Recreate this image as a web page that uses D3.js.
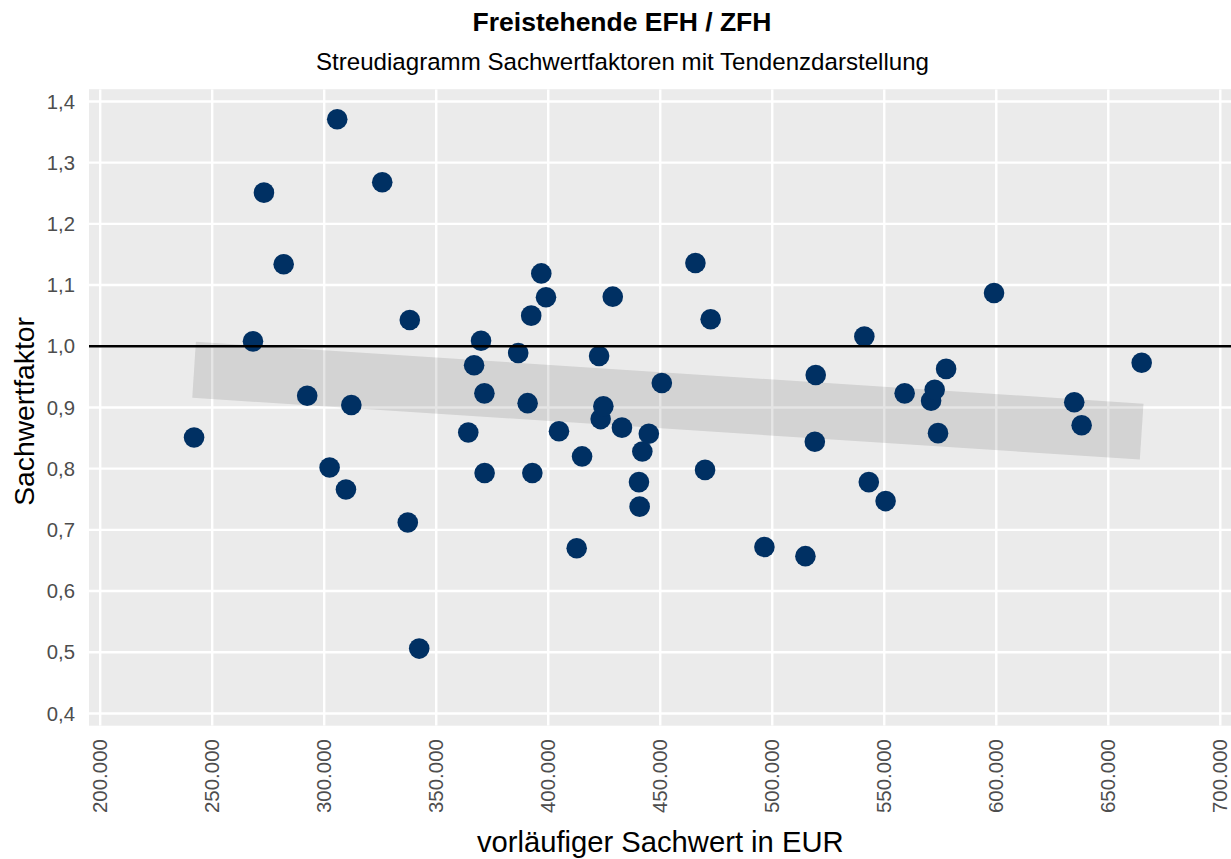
<!DOCTYPE html>
<html>
<head>
<meta charset="utf-8">
<script src="https://cdn.jsdelivr.net/npm/d3@7"></script>
<style>
  html, body { margin: 0; padding: 0; background: #ffffff; }
  svg { display: block; font-family: "Liberation Sans", Arial, sans-serif; }
</style>
</head>
<body>
<svg id="chart" width="1231" height="859"></svg>
<script>
// ---- data ----
const sachwert = [
  241900, 268200, 273100, 281900, 292400, 302400, 305800, 309700, 312100, 325900,
  337300, 338200, 342400, 364300, 366900, 370000, 371500, 371600, 386600, 390800,
  392400, 392900, 396900, 399000, 404800, 412700, 415100, 422700, 423400, 424600,
  428800, 432900, 440500, 440800, 442000, 444900, 450700, 465700, 470000, 472500,
  496500, 514800, 519400, 519000, 541100, 543100, 550600, 559100, 570900, 572500,
  574000, 577600, 599000, 634800, 638100, 664900
];
const faktor = [
  0.851, 1.008, 1.251, 1.134, 0.919, 0.802, 1.371, 0.766, 0.904, 1.268,
  0.712, 1.043, 0.506, 0.859, 0.969, 1.009, 0.923, 0.793, 0.989, 0.907,
  1.050, 0.793, 1.119, 1.080, 0.861, 0.670, 0.820, 0.984, 0.881, 0.902,
  1.081, 0.867, 0.778, 0.738, 0.828, 0.857, 0.940, 1.136, 0.798, 1.044,
  0.672, 0.657, 0.953, 0.844, 1.016, 0.778, 0.747, 0.923, 0.911, 0.929,
  0.858, 0.963, 1.087, 0.9085, 0.871, 0.973
];
const xTicks = [200000, 250000, 300000, 350000, 400000, 450000, 500000, 550000, 600000, 650000, 700000];
const yTicks = [0.4, 0.5, 0.6, 0.7, 0.8, 0.9, 1.0, 1.1, 1.2, 1.3, 1.4];
const referenceLine = [1.0];
const titleText = "Freistehende EFH / ZFH";
const subtitleText = "Streudiagramm Sachwertfaktoren mit Tendenzdarstellung";
const xTitle = "vorläufiger Sachwert in EUR";
const yTitle = "Sachwertfaktor";

// ---- layout ----
const panel = { left: 89, right: 1231.5, top: 89.2, bottom: 725.7 };
const svg = d3.select("#chart");

const x = d3.scaleLinear().domain([195000, 705000]).range([panel.left, panel.right]);
const y = d3.scaleLinear().domain([0.38, 1.42]).range([panel.bottom, panel.top]);

const fmtX = v => d3.format(",.0f")(v).replace(/,/g, ".");
const fmtY = v => d3.format(".1f")(v).replace(".", ",");

// panel background
svg.append("rect")
  .attr("x", panel.left).attr("y", panel.top)
  .attr("width", panel.right - panel.left).attr("height", panel.bottom - panel.top)
  .attr("fill", "#EBEBEB");

svg.append("clipPath").attr("id", "clip")
  .append("rect")
  .attr("x", panel.left).attr("y", panel.top)
  .attr("width", panel.right - panel.left).attr("height", panel.bottom - panel.top);

const plot = svg.append("g").attr("clip-path", "url(#clip)");

// gridlines
plot.append("g").selectAll("line").data(yTicks).join("line")
  .attr("x1", panel.left).attr("x2", panel.right)
  .attr("y1", d => y(d)).attr("y2", d => y(d))
  .attr("stroke", "#ffffff").attr("stroke-width", 2.4);
plot.append("g").selectAll("line").data(xTicks).join("line")
  .attr("y1", panel.top).attr("y2", panel.bottom)
  .attr("x1", d => x(d)).attr("x2", d => x(d))
  .attr("stroke", "#ffffff").attr("stroke-width", 2.4);

// linear trend (least squares fit of the points), drawn as a wide translucent band
const n = sachwert.length;
const mx = d3.mean(sachwert), my = d3.mean(faktor);
let sxy = 0, sxx = 0;
for (let i = 0; i < n; i++) {
  sxy += (sachwert[i] - mx) * (faktor[i] - my);
  sxx += (sachwert[i] - mx) ** 2;
}
const slope = sxy / sxx;
const intercept = my - slope * mx;
const xr = d3.extent(sachwert);
const trend = xr.map(v => [v, intercept + slope * v]);

plot.append("path")
  .attr("d", d3.line().x(d => x(d[0])).y(d => y(d[1]))(trend))
  .attr("fill", "none")
  .attr("stroke", "#000000")
  .attr("stroke-opacity", 0.1)
  .attr("stroke-width", 56)
  .attr("stroke-linecap", "butt");

// points
plot.append("g").selectAll("circle").data(d3.range(n)).join("circle")
  .attr("cx", i => x(sachwert[i]))
  .attr("cy", i => y(faktor[i]))
  .attr("r", 10.3)
  .attr("fill", "#003063");

// reference line
plot.append("g").selectAll("line").data(referenceLine).join("line")
  .attr("x1", panel.left).attr("x2", panel.right)
  .attr("y1", d => y(d)).attr("y2", d => y(d))
  .attr("stroke", "#000000").attr("stroke-width", 2.5);

// y axis labels
svg.append("g").selectAll("text").data(yTicks).join("text")
  .attr("x", 75).attr("y", d => y(d)).attr("dy", "0.35em")
  .attr("text-anchor", "end")
  .attr("font-size", 20.3).attr("fill", "#4D4D4D")
  .text(fmtY);

// x axis labels (rotated)
svg.append("g").selectAll("text").data(xTicks).join("text")
  .attr("transform", d => `translate(${x(d)},739) rotate(-90)`)
  .attr("dy", "0.35em")
  .attr("text-anchor", "end")
  .attr("font-size", 20.5).attr("fill", "#4D4D4D")
  .text(fmtX);

// titles
svg.append("text")
  .attr("x", 622).attr("y", 31)
  .attr("text-anchor", "middle").attr("font-weight", "bold")
  .attr("font-size", 26.5).attr("fill", "#000")
  .text(titleText);
svg.append("text")
  .attr("x", 622.5).attr("y", 70)
  .attr("text-anchor", "middle")
  .attr("font-size", 24.1).attr("fill", "#000")
  .text(subtitleText);

svg.append("text")
  .attr("x", (panel.left + panel.right) / 2).attr("y", 852)
  .attr("text-anchor", "middle")
  .attr("font-size", 29.2).attr("fill", "#000")
  .text(xTitle);
svg.append("text")
  .attr("transform", `translate(34,${(panel.top + panel.bottom) / 2 + 4}) rotate(-90)`)
  .attr("text-anchor", "middle")
  .attr("font-size", 28.3).attr("fill", "#000")
  .text(yTitle);
</script>
</body>
</html>
